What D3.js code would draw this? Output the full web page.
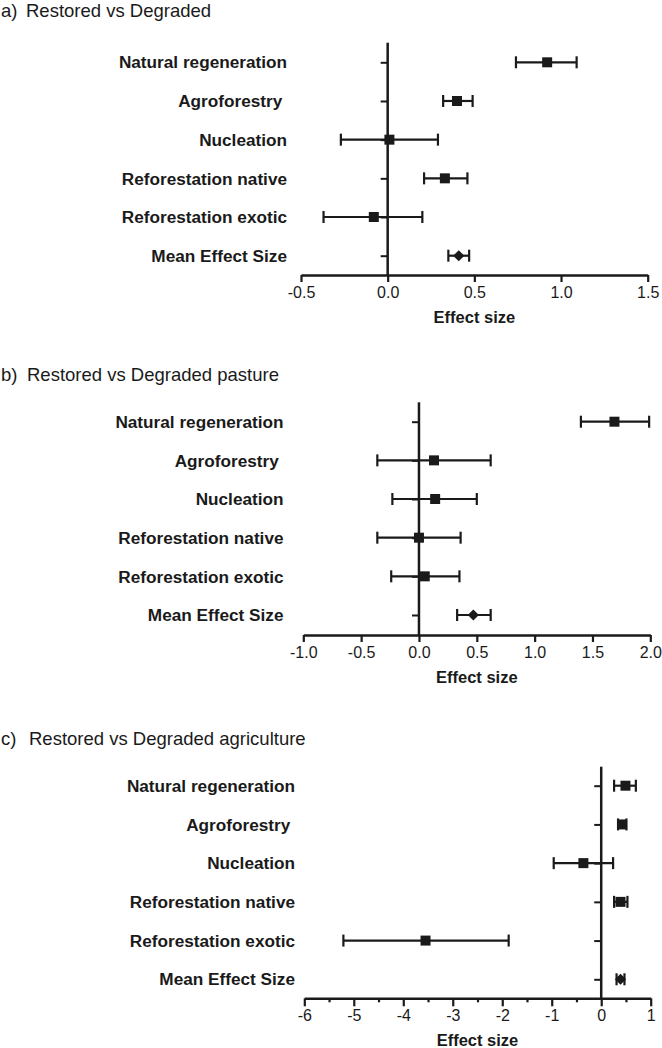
<!DOCTYPE html>
<html>
<head>
<meta charset="utf-8">
<script src="https://cdn.jsdelivr.net/npm/d3@7"></script>
<style>
  html, body { margin: 0; padding: 0; background: #fff; }
  svg { display: block; }
  text { font-family: "Liberation Sans", Arial, Helvetica, sans-serif; fill: #1a1a1a; }
</style>
</head>
<body>
<svg id="chart" width="662" height="1048"></svg>
<script>
// ---------- DATA ----------
const categories = ["Natural regeneration", "Agroforestry ", "Nucleation", "Reforestation native", "Reforestation exotic", "Mean Effect Size"];

const titlePrefixes = ["a)", "b)", "c)"];
const titleTexts = ["Restored vs Degraded", "Restored vs Degraded pasture", "Restored vs Degraded agriculture"];
const axisTitle = "Effect size";

// Panel a: Restored vs Degraded
const effectA = [0.92, 0.40, 0.01, 0.33, -0.08, 0.41];
const lowerA  = [0.74, 0.32, -0.27, 0.21, -0.37, 0.35];
const upperA  = [1.09, 0.49, 0.29, 0.46, 0.20, 0.47];
const ticksA  = [-0.5, 0.0, 0.5, 1.0, 1.5];

// Panel b: Restored vs Degraded pasture
const effectB = [1.69, 0.13, 0.14, 0.00, 0.05, 0.47];
const lowerB  = [1.40, -0.36, -0.23, -0.36, -0.24, 0.33];
const upperB  = [1.99, 0.62, 0.50, 0.36, 0.35, 0.62];
const ticksB  = [-1.0, -0.5, 0.0, 0.5, 1.0, 1.5, 2.0];

// Panel c: Restored vs Degraded agriculture
const effectC = [0.49, 0.42, -0.36, 0.39, -3.55, 0.39];
const lowerC  = [0.26, 0.34, -0.96, 0.26, -5.21, 0.31];
const upperC  = [0.70, 0.51, 0.24, 0.53, -1.87, 0.47];
const ticksC  = [-6, -5, -4, -3, -2, -1, 0, 1];
const minorTicksC = [-5.5, -4.5, -3.5, -2.5, -1.5, -0.5, 0.5];

// ---------- LAYOUT ----------
const locale = d3.formatLocale({decimal: ".", thousands: ",", grouping: [3], currency: ["", ""], minus: "-"});
const panels = [
  { effect: effectA, lower: lowerA, upper: upperA, ticks: ticksA, minor: [], fmt: locale.format(".1f"),
    domain: [-0.5, 1.5], xr: [301, 647.7], axisY: 275, top: 42.7, rows: [62.3, 255.7],
    labelRight: 287, titleY: 17, titleX2: 26 },
  { effect: effectB, lower: lowerB, upper: upperB, ticks: ticksB, minor: [], fmt: locale.format(".1f"),
    domain: [-1, 2], xr: [303.3, 650.3], axisY: 635, top: 402.3, rows: [421.7, 615],
    labelRight: 283.5, titleY: 381, titleX2: 27 },
  { effect: effectC, lower: lowerC, upper: upperC, ticks: ticksC, minor: minorTicksC, fmt: locale.format("d"),
    domain: [-6, 1], xr: [304.3, 650.7], axisY: 998.3, top: 766.7, rows: [785.7, 979.3],
    labelRight: 295, titleY: 745, titleX2: 29 }
];

const svg = d3.select("#chart");
const ink = "#1a1a1a";

panels.forEach((p, pi) => {
  const g = svg.append("g");
  const x = d3.scaleLinear().domain(p.domain).range(p.xr);
  const y = d3.scalePoint().domain(categories).range(p.rows);

  // Title
  const t = g.append("text").attr("y", p.titleY).style("font-size", "18.5px");
  t.append("tspan").attr("x", 1).text(titlePrefixes[pi]);
  t.append("tspan").attr("x", p.titleX2).text(titleTexts[pi]);

  // Category labels
  g.selectAll("text.cat").data(categories).join("text")
    .attr("class", "cat")
    .attr("x", p.labelRight)
    .attr("y", d => y(d))
    .attr("dy", "0.36em")
    .attr("text-anchor", "end")
    .style("font-size", "17.2px")
    .style("font-weight", "bold")
    .style("white-space", "pre")
    .text(d => d);

  // X axis
  const xAxis = d3.axisBottom(x).tickValues(p.ticks).tickFormat(p.fmt).tickSize(p.minor.length ? 8 : 7).tickSizeOuter(0);
  const ax = g.append("g").attr("transform", `translate(0,${p.axisY})`).call(xAxis);
  ax.select(".domain").attr("stroke", ink).attr("stroke-width", 2.5);
  ax.selectAll(".tick line").attr("stroke", ink).attr("stroke-width", 2.2);
  ax.selectAll(".tick text")
    .attr("y", 23).attr("dy", null)
    .style("font-size", "16px")
    .style("font-family", "'Liberation Sans', Arial, sans-serif")
    .attr("fill", ink);
  if (p.minor.length) {
    const mx = d3.axisBottom(x).tickValues(p.minor).tickFormat("").tickSize(4).tickSizeOuter(0);
    const mg = g.append("g").attr("transform", `translate(0,${p.axisY})`).call(mx);
    mg.select(".domain").remove();
    mg.selectAll(".tick line").attr("stroke", ink).attr("stroke-width", 2.2);
  }

  // Axis title
  g.append("text")
    .attr("x", (p.xr[0] + p.xr[1]) / 2)
    .attr("y", p.axisY + 48)
    .attr("text-anchor", "middle")
    .style("font-size", "16.5px")
    .style("font-weight", "bold")
    .text(axisTitle);

  // Vertical zero line with left ticks
  const yAxis = d3.axisLeft(y).tickSize(7).tickFormat("").tickSizeOuter(0);
  const ay = g.append("g").attr("transform", `translate(${x(0)},0)`).call(yAxis);
  ay.select(".domain").remove();
  ay.selectAll(".tick line").attr("stroke", ink).attr("stroke-width", 2);
  g.append("line")
    .attr("x1", x(0)).attr("x2", x(0))
    .attr("y1", p.top).attr("y2", p.axisY)
    .attr("stroke", ink).attr("stroke-width", 2.5);

  // Error bars
  const rows = categories.map((c, i) => ({ c, e: p.effect[i], lo: p.lower[i], hi: p.upper[i], mean: i === categories.length - 1 }));
  const eb = g.selectAll("g.eb").data(rows).join("g").attr("class", "eb");
  eb.append("line")
    .attr("x1", d => x(d.lo)).attr("x2", d => x(d.hi))
    .attr("y1", d => y(d.c)).attr("y2", d => y(d.c))
    .attr("stroke", ink).attr("stroke-width", 2.2);
  eb.append("line")
    .attr("x1", d => x(d.lo)).attr("x2", d => x(d.lo))
    .attr("y1", d => y(d.c) - 6).attr("y2", d => y(d.c) + 6)
    .attr("stroke", ink).attr("stroke-width", 2.2);
  eb.append("line")
    .attr("x1", d => x(d.hi)).attr("x2", d => x(d.hi))
    .attr("y1", d => y(d.c) - 6).attr("y2", d => y(d.c) + 6)
    .attr("stroke", ink).attr("stroke-width", 2.2);

  // Markers
  eb.append("path")
    .attr("d", d => d.mean ? d3.symbol(d3.symbolSquare, 62)() : d3.symbol(d3.symbolSquare, 100)())
    .attr("transform", d => `translate(${x(d.e)},${y(d.c)}) rotate(${d.mean ? 45 : 0})`)
    .attr("fill", ink);
});
</script>
</body>
</html>
